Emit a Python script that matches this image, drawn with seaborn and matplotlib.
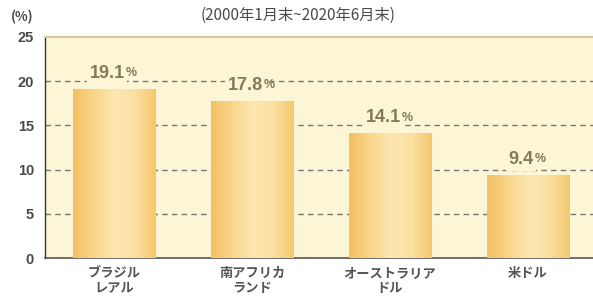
import numpy as np
import pandas as pd
import matplotlib
matplotlib.use("Agg")
import matplotlib.pyplot as plt
import seaborn as sns
from matplotlib.colors import LinearSegmentedColormap

categories = ["ブラジル\nレアル", "南アフリカ\nランド", "オーストラリア\nドル", "米ドル"]
values = [19.1, 17.8, 14.1, 9.4]
yticks = [0, 5, 10, 15, 20, 25]
subtitle = "(2000年1月末~2020年6月末)"
unit = "(%)"

sns.set_theme(style="white")
plt.rcParams['font.family'] = ['Noto Sans CJK JP', 'DejaVu Sans']

bg = "#FDF6D6"
txt = "#4a4a4a"
lab = "#85795d"

fig = plt.figure(figsize=(5.93, 3.05), dpi=100)
fig.patch.set_facecolor("white")
ax = fig.add_axes([45/593, 1-258/305, 552/593, 221/305])
ax.set_facecolor(bg)

df = pd.DataFrame({"cat": categories, "val": values})
sns.barplot(data=df, x="cat", y="val", ax=ax, width=0.6, color="#F8D27E",
            saturation=1, zorder=3)

cmap = LinearSegmentedColormap.from_list(
    "g", ["#F4C062", "#F9D58A", "#FDE6B0", "#FBE0A2", "#F6C86C"])
grad = np.linspace(0, 1, 256).reshape(1, -1)
for p in ax.patches:
    x0, y0 = p.get_x(), p.get_y()
    w, h = p.get_width(), p.get_height()
    im = ax.imshow(grad, cmap=cmap, aspect="auto",
                   extent=[x0, x0 + w, y0, y0 + h], zorder=3)
    im.set_clip_path(p)
    p.set_alpha(0.0)

for i, v in enumerate(values):
    s = f"{v:.1f}"
    t = ax.text(i - 0.05, v + 0.8, s, ha="center", va="bottom", fontsize=13,
                family=["Liberation Sans", "DejaVu Sans"],
                color=lab, fontweight="bold", zorder=4,
                bbox=dict(facecolor=bg, edgecolor="none", pad=2))
    ax.annotate("%", xy=(1, 0), xycoords=t, xytext=(1, 2), textcoords="offset points",
                ha="left", va="bottom", fontsize=9, color=lab,
                family=["Liberation Sans", "DejaVu Sans"],
                fontweight="bold", zorder=4)

ax.set_xlim(-0.5, 3.5)
ax.set_ylim(0, 25)
ax.set_yticks(yticks)
ax.set_yticklabels([str(t) for t in yticks], fontsize=10.5, color=txt,
                   fontweight="bold", family=["Liberation Sans", "DejaVu Sans"])
for yv in yticks[1:-1]:
    ax.axhline(yv, color="#777777", lw=1.0, ls=(0, (4, 3)), zorder=1)

ax.set_xticks(range(len(categories)))
ax.set_xticklabels(categories, fontsize=9.5, color="#555555", fontweight="bold",
                   linespacing=1.1)
ax.set_xlabel("")
ax.set_ylabel("")
ax.tick_params(axis="x", length=0, pad=6)
ax.tick_params(axis="y", length=0, pad=8)
ax.set_xticks([0.5, 1.5, 2.5], minor=True)
ax.tick_params(axis="x", which="minor", direction="in", length=3, color="#555555")

ax.spines["left"].set_color("#333333")
ax.spines["left"].set_linewidth(1.0)
ax.spines["bottom"].set_color("#555555")
ax.spines["bottom"].set_linewidth(1.2)
ax.spines["top"].set_color("#d8c9a0")
ax.spines["top"].set_linewidth(1.5)
ax.spines["right"].set_visible(False)

fig.text(22/593, 1-17/305, unit, ha="center", va="center", fontsize=9.5,
         color=txt, fontweight="bold")
fig.text(298/593, 1-15/305, subtitle, ha="center", va="center", fontsize=11,
         color=txt)

fig.savefig("out.png", dpi=100, facecolor="white")
